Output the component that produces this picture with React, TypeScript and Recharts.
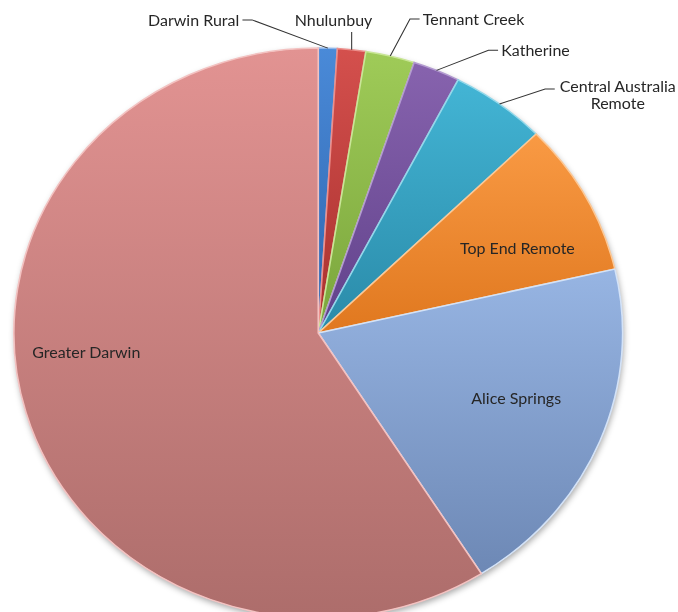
import { PieChart, Pie, Cell } from 'recharts';

const regions = [
  'Darwin Rural',
  'Nhulunbuy',
  'Tennant Creek',
  'Katherine',
  'Central Australia Remote',
  'Top End Remote',
  'Alice Springs',
  'Greater Darwin',
];
const shares = [1.0, 1.5, 2.6, 2.5, 5.1, 8.7, 19.6, 59.0];

const TOP_COLORS = ['#4a8ad8', '#d4504d', '#9fcb58', '#8763ae', '#43b5d5', '#f99a44', '#97b5e3', '#e29392'];
const BOTTOM_COLORS = ['#2e64ad', '#a8302e', '#7aa53c', '#60418a', '#2a8aa8', '#e0781f', '#6d88b5', '#ad6d6b'];
const EDGE_COLORS = ['#8fb8ec', '#ec8f8c', '#c9e697', '#b39bd0', '#93d8ea', '#fcc896', '#d3e2f7', '#f3c2c1'];

const data = regions.map((name, i) => ({ name, value: shares[i] }));

// the original picture is slightly stretched sideways, so the pie is an ellipse
const STRETCH = 1.068;
const W = 678;
const H = 612;
const INNER_W = W / STRETCH;
const CX = 298;
const CY = 333;
const R = 285;

const RAD = Math.PI / 180;
// clock angle: degrees clockwise from 12 o'clock
const polar = (cx: number, cy: number, r: number, clock: number) => ({
  x: cx + r * Math.sin(clock * RAD),
  y: cy - r * Math.cos(clock * RAD),
});

// label placement (clock angle, radius as a fraction of the pie radius)
const LABELS: Record<string, any> = {
  'Darwin Rural': { angle: -11.2, r: 1.12, side: 'left' },
  'Nhulunbuy': { angle: 5.7, r: 1.061, side: 'up' },
  'Tennant Creek': { angle: 15.3, r: 1.142, side: 'right' },
  'Katherine': { angle: 29.4, r: 1.139, side: 'right' },
  'Central Australia Remote': { angle: 41.05, r: 1.135, side: 'right', lines: ['Central Australia', 'Remote'] },
  'Top End Remote': { angle: 65.5, r: 0.719, side: 'in' },
  'Alice Springs': { angle: 109.3, r: 0.689, side: 'in' },
  'Greater Darwin': { angle: 265, r: 0.765, side: 'in' },
};

const FONT = 'Lato, "Open Sans", sans-serif';
const TEXT = '#262626';

const renderLabel = (props: any) => {
  const { cx, cy, midAngle, outerRadius, index } = props;
  const name = regions[index];
  const cfg = LABELS[name];
  if (!cfg) return null;
  const p = polar(cx, cy, outerRadius * cfg.r, cfg.angle);
  const textProps = { fontFamily: FONT, fontSize: 15, fill: TEXT, dominantBaseline: 'central' as const };

  if (cfg.side === 'in') {
    return (
      <text key={name} x={p.x} y={p.y} textAnchor="middle" {...textProps}>
        {name}
      </text>
    );
  }

  const edge = polar(cx, cy, outerRadius, 90 - midAngle);
  if (cfg.side === 'up') {
    return (
      <g key={name}>
        <path d={`M${edge.x},${edge.y}L${edge.x},${p.y}`} stroke="#333" strokeWidth={1} fill="none" />
        <text x={edge.x - 17} y={p.y - 12} textAnchor="middle" {...textProps}>
          {name}
        </text>
      </g>
    );
  }

  const dir = cfg.side === 'left' ? -1 : 1;
  const hx = p.x + dir * 9;
  const tx = hx + dir * 3;
  const lines: string[] = cfg.lines || [name];
  return (
    <g key={name}>
      <path d={`M${edge.x},${edge.y}L${p.x},${p.y}L${hx},${p.y}`} stroke="#333" strokeWidth={1} fill="none" />
      {lines.length === 1 ? (
        <text x={tx} y={p.y} textAnchor={dir < 0 ? 'end' : 'start'} {...textProps}>
          {name}
        </text>
      ) : (
        <text x={tx} y={p.y - 3} textAnchor="start" {...textProps}>
          <tspan x={tx + 56} textAnchor="middle">{lines[0]}</tspan>
          <tspan x={tx + 56} dy={17} textAnchor="middle">{lines[1]}</tspan>
        </text>
      )}
    </g>
  );
};

export default function App() {
  return (
    <div style={{ position: 'absolute', left: 0, top: 0, width: W, height: H, overflow: 'hidden', background: '#fff' }}>
      <div style={{ width: INNER_W, height: H, transform: `scaleX(${STRETCH})`, transformOrigin: '0 0' }}>
        <PieChart width={INNER_W} height={H} margin={{ top: 0, right: 0, bottom: 0, left: 0 }}>
          <defs>
            {regions.map((name, i) => (
              <linearGradient key={name} id={`grad-${i}`} x1="0" y1="0" x2="0" y2="1">
                <stop offset="0%" stopColor={TOP_COLORS[i]} />
                <stop offset="100%" stopColor={BOTTOM_COLORS[i]} />
              </linearGradient>
            ))}
            <filter id="pie-shadow" x="-10%" y="-10%" width="120%" height="120%">
              <feDropShadow dx="1" dy="3" stdDeviation="3" floodColor="#000" floodOpacity="0.35" />
            </filter>
          </defs>
          {/* backdrop disc that only casts the soft shadow round the pie */}
          <Pie
            data={[{ name: 'backdrop', value: 1 }]}
            dataKey="value"
            cx={CX}
            cy={CY}
            outerRadius={R}
            startAngle={90}
            endAngle={-270}
            stroke="none"
            fill="#fff"
            filter="url(#pie-shadow)"
            isAnimationActive={false}
            label={false}
            labelLine={false}
          />
          <Pie
            data={data}
            dataKey="value"
            nameKey="name"
            cx={CX}
            cy={CY}
            outerRadius={R}
            startAngle={90}
            endAngle={-270}
            isAnimationActive={false}
            labelLine={false}
            label={renderLabel}
          >
            {data.map((entry, i) => (
              <Cell key={entry.name} fill={`url(#grad-${i})`} stroke={EDGE_COLORS[i]} strokeWidth={1.5} />
            ))}
          </Pie>
        </PieChart>
      </div>
    </div>
  );
}
